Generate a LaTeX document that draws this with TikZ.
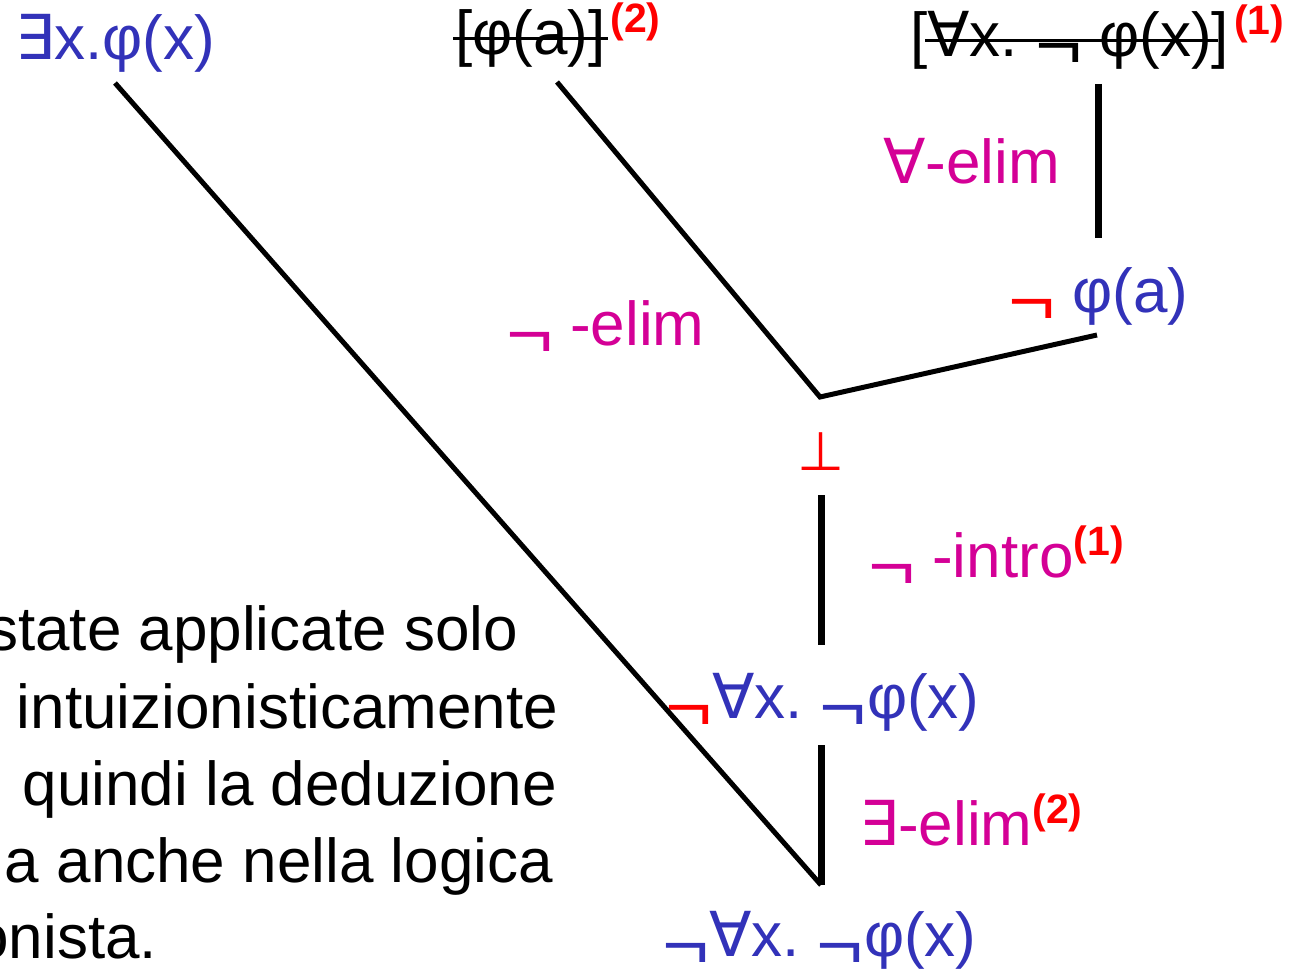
\documentclass[tikz,border=0pt]{standalone}
\usepackage{graphicx}
\usepackage{fontspec}
\setmainfont{Liberation Sans}
\newfontfamily\symf{DejaVu Sans}
\definecolor{fblue}{RGB}{50,50,185}
\definecolor{fmag}{RGB}{212,0,150}
\definecolor{fred}{RGB}{255,0,0}
\newcommand{\mall}{{\symf ∀}}
\newcommand{\mex}{{\symf ∃}}
\newcommand{\mneg}{\raisebox{-12pt}{\scalebox{1.3}[1.1]{¬}}}
\newcommand{\msup}[1]{\raisebox{22pt}{\fontsize{41}{41}\selectfont\bfseries\color{fred}(#1)}}
\begin{document}
\begin{tikzpicture}[x=1pt,y=-1pt,
  every node/.style={inner sep=0pt, outer sep=0pt, font=\fontsize{62}{77}\selectfont},
  conn/.style={line width=5pt, line join=miter},
  vconn/.style={line width=7pt},
  strike/.style={line width=3pt}]
\useasboundingbox (0,0) rectangle (1292,971);
\clip (0,0) rectangle (1292,971);
% premises
\node[anchor=base west, text=fblue] (ex) at (15,60) {\mex x.φ(x)};
\node[anchor=base west] (pa) at (455,55) {[φ(a)]};
\node[anchor=base west, xshift=5pt] (pas) at (pa.base east) {\msup{2}};
\node[anchor=base west] (an) at (910,57) {[\mall x.\ \mneg\ φ(x)]};
\node[anchor=base west, xshift=5pt] (ans) at (an.base east) {\msup{1}};
\draw[strike] (453,39) -- (608,39);
\draw[strike] (925,41) -- (1218,41);
% rule labels and formulas
\node[anchor=base west, text=fmag] (ae) at (883,183) {\mall-elim};
\node[anchor=base west] (npa) at (1008,312) {\textcolor{fred}{\mneg}\ \textcolor{fblue}{φ(a)}};
\node[anchor=base west, text=fmag] (ne) at (506,345) {\mneg\ -elim};
\node[anchor=base, text=fred, font=\symf\fontsize{54}{60}\selectfont] (bot) at (821,470) {⊥};
\node[anchor=base west, text=fmag] (ni) at (868,577) {\mneg\ -intro\msup{1}};
\node[anchor=base west] (mid) at (665,718) {\textcolor{fred}{\mneg}\textcolor{fblue}{\mall x.\ \mneg φ(x)}};
\node[anchor=base west, text=fmag] (ee) at (859,845) {\mex-elim\msup{2}};
\node[anchor=base west, text=fblue] (fin) at (662,956) {\mneg\mall x.\ \mneg φ(x)};
% side text (cut at the left edge)
\node[anchor=base east] (t1) at (518,650) {state applicate solo};
\node[anchor=base east] (t2) at (558,728) {intuizionisticamente};
\node[anchor=base east] (t3) at (557,805) {quindi la deduzione};
\node[anchor=base east] (t4) at (553,882) {a anche nella logica};
\node[anchor=base east] (t5) at (157,958) {onista.};
% connector ends
\coordinate (exb) at (115,83);
\coordinate (pab) at (557,82);
\coordinate (anb) at (1098,84);
\coordinate (npt) at (1098,238);
\coordinate (npb) at (1097,335);
\coordinate (j) at (820,397);
\coordinate (bt) at (821,495);
\coordinate (bb) at (821,645);
\coordinate (mt) at (821,745);
\coordinate (mb) at (821,885);
\draw[conn] (exb) -- (mb);
\draw[conn] (pab) -- (j) -- (npb);
\draw[vconn] (anb) -- (npt);
\draw[vconn] (bt) -- (bb);
\draw[vconn] (mt) -- (mb);
\end{tikzpicture}
\end{document}
